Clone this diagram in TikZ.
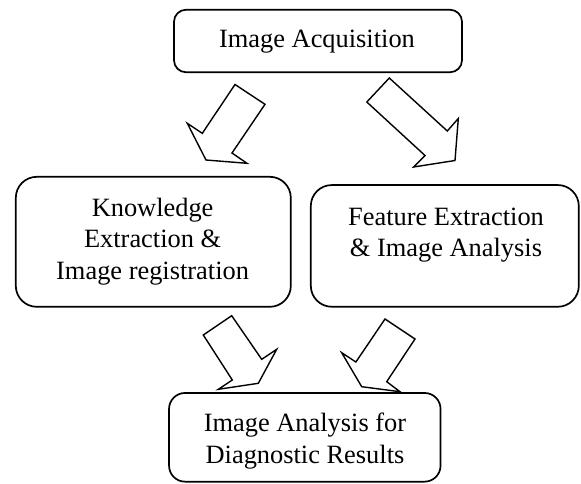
\documentclass[tikz,border=0pt]{standalone}
\usepackage{fontspec}
\setmainfont{Liberation Serif}
\begin{document}
\begin{tikzpicture}[x=1pt,y=-1pt,
  box/.style={draw=black,line width=1.7pt,inner sep=0pt,fill=none},
  lbl/.style={anchor=base,inner sep=0pt,font=\fontsize{26.4}{31.3}\selectfont},
  blockarrow/.style={draw=black,line width=1.4pt,line join=miter,fill=white}]
\useasboundingbox (0,0) rectangle (581,483);
% boxes
\node[box,rounded corners=12pt,minimum width=288pt,minimum height=62.5pt] (acq) at (318,41) {};
\node[box,rounded corners=21pt,minimum width=275pt,minimum height=130pt] (know) at (153.3,241.8) {};
\node[box,rounded corners=21pt,minimum width=268pt,minimum height=121.7pt] (feat) at (444.8,245.9) {};
\node[box,rounded corners=16pt,minimum width=271.5pt,minimum height=88.7pt] (diag) at (304.8,437.3) {};
% texts
\node[lbl] (t1) at (317,47.5) {Image Acquisition};
\node[lbl] (t2a) at (152.6,216.5) {Knowledge};
\node[lbl] (t2b) at (152.6,247.8) {Extraction \&};
\node[lbl] (t2c) at (152.6,279.1) {Image registration};
\node[lbl] (t3a) at (446,225) {Feature Extraction};
\node[lbl] (t3b) at (446,256.3) {\& Image Analysis};
\node[lbl] (t4a) at (305,431.7) {Image Analysis for};
\node[lbl] (t4b) at (305,463) {Diagnostic Results};
% block arrows
\draw[blockarrow] (235,84.5) -- (265,104.3) -- (232,153) -- (247,163.3) -- (206,160) -- (187.3,123.3) -- (202.3,133.3) -- cycle;
\draw[blockarrow] (389.3,78) -- (447.3,131) -- (458.3,118.5) -- (455,160.5) -- (413.5,167) -- (425,155.5) -- (366.8,102) -- cycle;
\draw[blockarrow] (231.7,315.7) -- (261.7,359.3) -- (276.7,349.3) -- (258.3,383.3) -- (218.3,389.3) -- (232.3,380) -- (203.3,335) -- cycle;
\draw[blockarrow] (385,319) -- (415,339) -- (386.7,381.7) -- (400,391.7) -- (361.7,386.7) -- (341.7,352.7) -- (355.9,362) -- cycle;
\end{tikzpicture}
\end{document}
